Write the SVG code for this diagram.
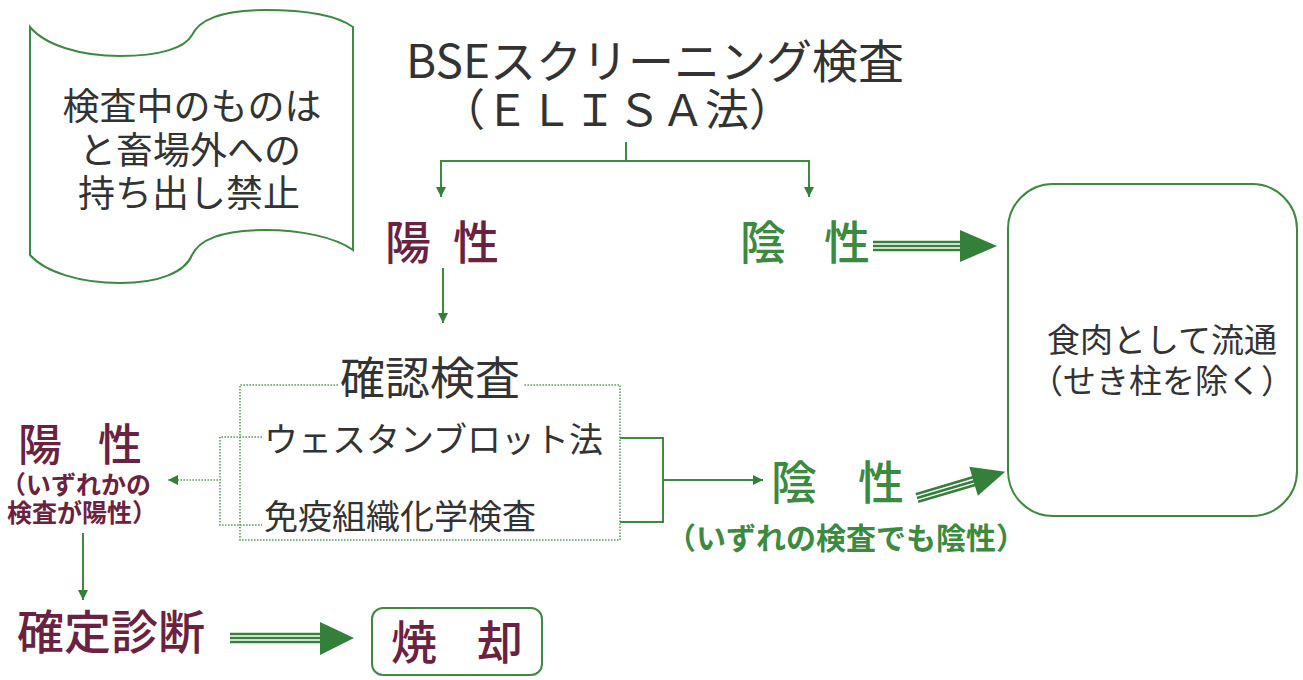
<svg xmlns="http://www.w3.org/2000/svg" width="1303" height="680" viewBox="0 0 1303 680">
<style>
.g{fill:none;stroke:#3c8a3f;stroke-width:2}
.dot{fill:none;stroke:#5aa05c;stroke-width:1.6;stroke-dasharray:1.6 1.4}
.t{font-family:"Noto Sans CJK JP","Noto Sans",sans-serif;fill:#333}
.m{font-family:"Noto Sans CJK JP","Noto Sans",sans-serif;fill:#6b2241;font-weight:500}
.gr{font-family:"Noto Sans CJK JP","Noto Sans",sans-serif;fill:#3c8a3f;font-weight:500}
.b{font-weight:700}
.dl{stroke:#34803a;stroke-width:2.6}
.ah{fill:#34803a}
</style>
<defs>
<marker id="tri" viewBox="0 0 10 10" refX="10" refY="5" markerWidth="10" markerHeight="10" markerUnits="userSpaceOnUse" orient="auto">
<path d="M0,0 L10,5 L0,10 Z" fill="#34803a"/>
</marker>
</defs>
<rect width="1303" height="680" fill="#ffffff"/>

<g id="banner">
<path class="g" d="M30,27 C45,45 80,56 120,56 C160,56 185,48 192,35 C200,18 225,10 265,10 C300,10 335,14 353,27 L353,250 C335,237 300,230 265,230 C225,230 200,238 192,255 C185,272 160,283 120,283 C80,283 45,272 30,255 Z"/>
<text class="t" font-size="37" text-anchor="middle" x="192" y="120">検査中のものは</text>
<text class="t" font-size="37" text-anchor="middle" x="190" y="164">と畜場外への</text>
<text class="t" font-size="37" text-anchor="middle" x="189" y="207">持ち出し禁止</text>
</g>

<g id="title">
<text class="t" font-size="46" x="406" y="78" textLength="498" lengthAdjust="spacingAndGlyphs">BSEスクリーニング検査</text>
<text class="t" font-size="44" text-anchor="middle" x="617" y="126">（ＥＬＩＳＡ法）</text>
</g>

<g id="positive1">
<text class="m" font-size="46" x="385 453" y="259">陽性</text>
</g>

<g id="negative1">
<text class="gr" font-size="46" x="740 824" y="259">陰性</text>
</g>

<g id="meatbox">
<rect class="g" x="1008" y="184" width="289" height="332" rx="45" ry="45"/>
<text class="t" font-size="33" text-anchor="middle" x="1162" y="352">食肉として流通</text>
<text class="t" font-size="33" text-anchor="middle" x="1162" y="393">（せき柱を除く）</text>
</g>

<g id="confirm">
<path class="dot" d="M338,385 H240 V540 H620 V385 H523"/>
<text class="t" font-size="45" x="340" y="395">確認検査</text>
<text class="t" font-size="34" x="264" y="452">ウェスタンブロット法</text>
<text class="t" font-size="34" x="264" y="529">免疫組織化学検査</text>
</g>

<g id="positive2">
<text class="m" font-size="44" x="18 98" y="461">陽性</text>
<text class="m b" font-size="25" x="1" y="494" textLength="150" lengthAdjust="spacingAndGlyphs">（いずれかの</text>
<text class="m b" font-size="25" x="7" y="522">検査が陽性）</text>
</g>

<g id="negative2">
<text class="gr" font-size="46" x="771 858" y="499">陰性</text>
<text class="gr b" font-size="30" x="666" y="549">（いずれの検査でも陰性）</text>
</g>

<g id="diagnosis">
<text class="m" font-size="47" x="17" y="649">確定診断</text>
</g>

<g id="incinerate">
<rect class="g" x="372" y="608" width="170" height="67" rx="11" ry="11"/>
<text class="m" font-size="46" x="391 477" y="659">焼却</text>
</g>

<g id="connectors">
<path class="g" d="M626,142 V161"/>
<path class="g" d="M626,161 H441 V197" marker-end="url(#tri)"/>
<path class="g" d="M626,161 H809 V197" marker-end="url(#tri)"/>
<path class="g" d="M443,268 V323" marker-end="url(#tri)"/>
<path class="dot" d="M262,437 H220 V525 H262"/>
<path class="dot" d="M218,480 H168" marker-end="url(#tri)"/>
<path class="g" d="M620,438 H663 V522 H620"/>
<path class="g" d="M663,480 H763" marker-end="url(#tri)"/>
<path class="g" d="M83,533 V600" marker-end="url(#tri)"/>
<g id="bigarrow1">
<line class="dl" x1="873" y1="242" x2="962" y2="242"/>
<line class="dl" x1="873" y1="246" x2="962" y2="246"/>
<line class="dl" x1="873" y1="250" x2="962" y2="250"/>
<path class="ah" d="M960,230 L997,246 L960,262 Z"/>
</g>
<g id="bigarrow2" transform="translate(917,498) rotate(-16.5)">
<line class="dl" x1="0" y1="-4" x2="62" y2="-4"/>
<line class="dl" x1="0" y1="0" x2="62" y2="0"/>
<line class="dl" x1="0" y1="4" x2="62" y2="4"/>
<path class="ah" d="M59,-15 L92,0 L59,15 Z"/>
</g>
<g id="bigarrow3">
<line class="dl" x1="230" y1="634" x2="322" y2="634"/>
<line class="dl" x1="230" y1="638" x2="322" y2="638"/>
<line class="dl" x1="230" y1="642" x2="322" y2="642"/>
<path class="ah" d="M320,622 L354,638 L320,655 Z"/>
</g>
</g>
</svg>
